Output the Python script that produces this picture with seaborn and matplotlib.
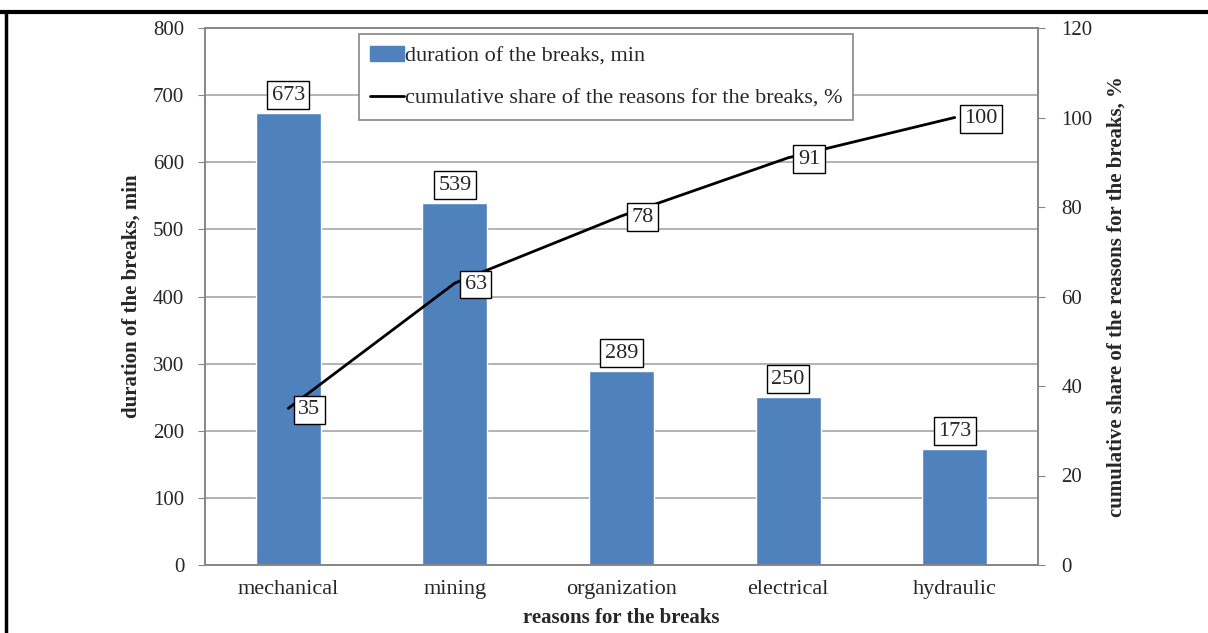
import numpy as np
import matplotlib
matplotlib.use("Agg")
import matplotlib.pyplot as plt
import seaborn as sns
from matplotlib.patches import Patch
from matplotlib.lines import Line2D

# data
reasons = ["mechanical", "mining", "organization", "electrical", "hydraulic"]
duration_min = [673, 539, 289, 250, 173]
cumulative_pct = [35, 63, 78, 91, 100]

bar_color = "#4F81BD"
grid_color = "#A6A6A6"
spine_color = "#868686"

sns.set_style("white")
plt.rcParams["font.family"] = ["Liberation Serif", "DejaVu Serif"]

fig = plt.figure(figsize=(12.08, 6.33), dpi=100)
ax = fig.add_axes([205 / 1208, 1 - 565 / 633, 833 / 1208, 537 / 633])

pos = np.arange(len(reasons))

# bars
sns.barplot(x=pos, y=duration_min, color=bar_color, width=0.39,
            saturation=1, ax=ax, native_scale=True, zorder=2)
ax.set_xlim(-0.5, len(reasons) - 0.5)
ax.set_ylim(0, 800)
ax.set_yticks(range(0, 801, 100))
ax.yaxis.grid(True, color=grid_color, lw=1.2, zorder=0)
ax.set_axisbelow(True)

ax.set_xticks(pos)
ax.set_xticklabels(reasons, fontsize=16)
ax.set_xticks(np.arange(-0.5, len(reasons)), minor=True)
ax.tick_params(axis="x", which="major", length=0, pad=11)
ax.tick_params(axis="x", which="minor", length=5, color=spine_color)
ax.tick_params(axis="y", length=5, color=spine_color, labelsize=15, pad=10)

ax.set_xlabel("reasons for the breaks", fontsize=15, fontweight="bold", labelpad=6)
ax.set_ylabel("duration of the breaks, min", fontsize=15, fontweight="bold", labelpad=8)

for s in ax.spines.values():
    s.set_color(spine_color)
    s.set_linewidth(1.2)

for x, v in zip(pos, duration_min):
    ax.annotate(str(v), (x, v), xytext=(0, 6), textcoords="offset points",
                ha="center", va="bottom", fontsize=16,
                bbox=dict(boxstyle="square,pad=0.2", fc="white", ec="black", lw=1))

# cumulative line on the right axis
ax2 = ax.twinx()
sns.lineplot(x=pos, y=cumulative_pct, color="black", lw=2, ax=ax2)
ax2.set_ylim(0, 120)
ax2.set_yticks(range(0, 121, 20))
ax2.tick_params(axis="y", length=5, color=spine_color, labelsize=15, pad=12)
ax2.set_ylabel("cumulative share of the reasons for the breaks, %",
               fontsize=15, fontweight="bold", labelpad=10)
for s in ax2.spines.values():
    s.set_color(spine_color)
    s.set_linewidth(1.2)

for x, v in zip(pos, cumulative_pct):
    ax2.annotate(str(v), (x, v), xytext=(7, -1), textcoords="offset points",
                 ha="left", va="center", fontsize=16,
                 bbox=dict(boxstyle="square,pad=0.2", fc="white", ec="black", lw=1))

handles = [Patch(color=bar_color), Line2D([0], [0], color="black", lw=2)]
labels = ["duration of the breaks, min",
          "cumulative share of the reasons for the breaks, %"]
leg = ax2.legend(handles, labels, loc="upper left", bbox_to_anchor=(0.185, 0.988),
                 fontsize=16, frameon=True, fancybox=False, framealpha=1,
                 edgecolor=spine_color, handlelength=1.5, handletextpad=0.05,
                 labelspacing=1.0, borderpad=0.5, borderaxespad=0)
leg.get_frame().set_linewidth(1.2)

# page frame (top and left edges)
fig.add_artist(Line2D([0.0, 1.0], [1 - 12 / 633, 1 - 12 / 633], color="black", lw=3,
                      transform=fig.transFigure))
fig.add_artist(Line2D([0.005, 0.005], [0, 1 - 12 / 633], color="black", lw=2.5,
                      transform=fig.transFigure))

fig.savefig("out.png", dpi=100)
